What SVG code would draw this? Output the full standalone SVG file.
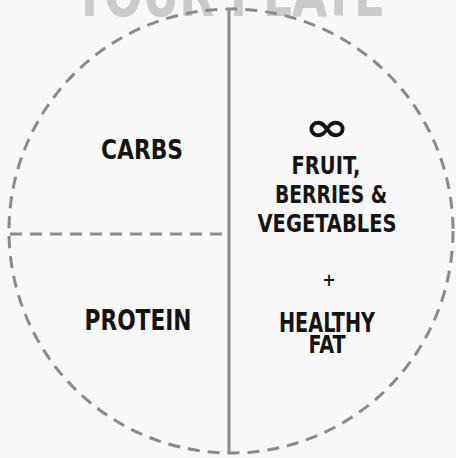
<svg xmlns="http://www.w3.org/2000/svg" width="456" height="458" viewBox="0 0 456 458">
<style>
.lbl{font-family:'Liberation Sans Narrow','DejaVu Sans Condensed','Liberation Sans',sans-serif;font-weight:bold;fill:#141414;text-anchor:middle}
.line{stroke:#8a8a8a;stroke-width:3;fill:none}
.dash{stroke-dasharray:12 8}
</style>
<rect width="456" height="458" fill="#f8f8f8"/>
<text x="229" y="16" class="lbl" style="fill:#cbcbcb" font-size="62" textLength="312" lengthAdjust="spacingAndGlyphs">YOUR PLATE</text>
<g id="connectors">
<circle cx="231" cy="231" r="222" class="line dash"/>
<line x1="229" y1="9" x2="229" y2="454" class="line"/>
<line x1="10" y1="234" x2="229" y2="234" class="line dash"/>
</g>
<g id="carbs"><text x="142" y="159" class="lbl" font-size="27" textLength="82" lengthAdjust="spacingAndGlyphs">CARBS</text></g>
<g id="protein"><text x="138" y="330" class="lbl" font-size="28" textLength="107" lengthAdjust="spacingAndGlyphs">PROTEIN</text></g>
<g id="fruit">
<text x="327" y="141" class="lbl" font-size="40" textLength="45" lengthAdjust="spacingAndGlyphs">∞</text>
<text x="326" y="174" class="lbl" font-size="25" textLength="69" lengthAdjust="spacingAndGlyphs">FRUIT,</text>
<text x="331" y="203" class="lbl" font-size="25" textLength="112" lengthAdjust="spacingAndGlyphs">BERRIES &amp;</text>
<text x="327" y="232" class="lbl" font-size="25" textLength="139" lengthAdjust="spacingAndGlyphs">VEGETABLES</text>
</g>
<g id="fat">
<text x="329" y="285.5" class="lbl" font-size="18">+</text>
<text x="327" y="332" class="lbl" font-size="26" textLength="96" lengthAdjust="spacingAndGlyphs">HEALTHY</text>
<text x="327" y="353" class="lbl" font-size="24" textLength="37" lengthAdjust="spacingAndGlyphs">FAT</text>
</g>
</svg>
